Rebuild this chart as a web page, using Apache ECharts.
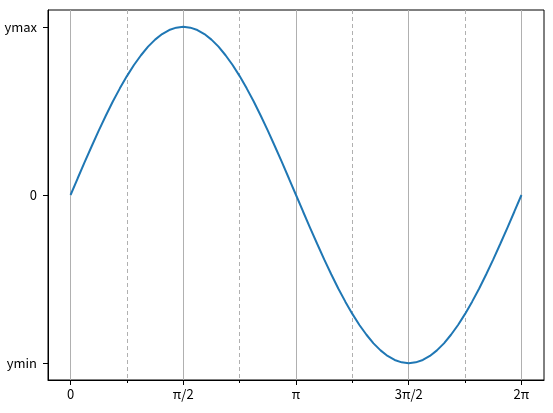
<!DOCTYPE html>
<html><head><meta charset="utf-8">
<script src="https://cdn.jsdelivr.net/npm/echarts@6/dist/echarts.min.js"></script>
<style>html,body{margin:0;padding:0;background:#fff}#c{width:553px;height:413px}</style>
</head><body><div id="c"></div>
<script>
var yValues = [0,0.098,0.195,0.290,0.383,0.471,0.556,0.634,0.707,0.773,0.831,0.882,0.924,0.957,0.981,0.995,1,
  0.995,0.981,0.957,0.924,0.882,0.831,0.773,0.707,0.634,0.556,0.471,0.383,0.290,0.195,0.098,0,
  -0.098,-0.195,-0.290,-0.383,-0.471,-0.556,-0.634,-0.707,-0.773,-0.831,-0.882,-0.924,-0.957,-0.981,-0.995,-1,
  -0.995,-0.981,-0.957,-0.924,-0.882,-0.831,-0.773,-0.707,-0.634,-0.556,-0.471,-0.383,-0.290,-0.195,-0.098,0];
var xStep = 0.098175; // pi/32 between samples
var majorTicks = [0, 1.5708, 3.1416, 4.7124, 6.2832];
var majorLabels = ['0', 'π/2', 'π', '3π/2', '2π'];
var minorTicks = [0.7854, 2.3562, 3.9270, 5.4978];
var yTicks = [-1, 0, 1];
var yLabels = ['ymin', '0', 'ymax'];
var xMin = -0.31416, xMax = 6.5973;
var yMin = -1.1, yMax = 1.1;

var font = '"Noto Sans CJK JP", sans-serif';
var data = yValues.map(function (y, i) { return [i * xStep, y]; });
function lab(vals, labels) { return function (v) { for (var i = 0; i < vals.length; i++) if (Math.abs(vals[i] - v) < 1e-3) return labels[i]; return ''; }; }

var chart = echarts.init(document.getElementById('c'), null, {renderer: 'canvas'});
chart.setOption({
  animation: false,
  backgroundColor: '#fff',
  grid: {left: 48, top: 10, right: 9, bottom: 33, show: true, borderColor: '#000', borderWidth: 1, backgroundColor: 'transparent'},
  xAxis: [{
    type: 'value', min: xMin, max: xMax,
    axisLine: {onZero: false, lineStyle: {color: '#000', width: 1}},
    axisTick: {show: true, length: 5, inside: false, customValues: majorTicks, lineStyle: {color: '#000', width: 1}},
    axisLabel: {customValues: majorTicks, formatter: lab(majorTicks, majorLabels), color: '#000', fontFamily: font, fontSize: 13, margin: 8},
    splitLine: {show: true, lineStyle: {color: '#b0b0b0', width: 1, type: 'solid'}}
  }, {
    type: 'value', min: xMin, max: xMax, position: 'bottom', offset: 0,
    axisLine: {show: false, onZero: false},
    axisTick: {show: true, length: 3, inside: false, customValues: minorTicks, lineStyle: {color: '#000', width: 1}},
    axisLabel: {show: false, customValues: minorTicks},
    splitLine: {show: true, lineStyle: {color: '#b0b0b0', width: 1, type: [4, 3]}}
  }],
  yAxis: {
    type: 'value', min: yMin, max: yMax,
    axisLine: {show: true, onZero: false, lineStyle: {color: '#000', width: 1}},
    axisTick: {show: true, length: 5, customValues: yTicks, lineStyle: {color: '#000', width: 1}},
    axisLabel: {customValues: yTicks, formatter: lab(yTicks, yLabels), color: '#000', fontFamily: font, fontSize: 13, margin: 11},
    splitLine: {show: false}
  },
  series: [{
    type: 'line', xAxisIndex: 0, data: data, smooth: false, showSymbol: false,
    lineStyle: {color: '#1f77b4', width: 2}, z: 5
  }]
});
</script></body></html>
